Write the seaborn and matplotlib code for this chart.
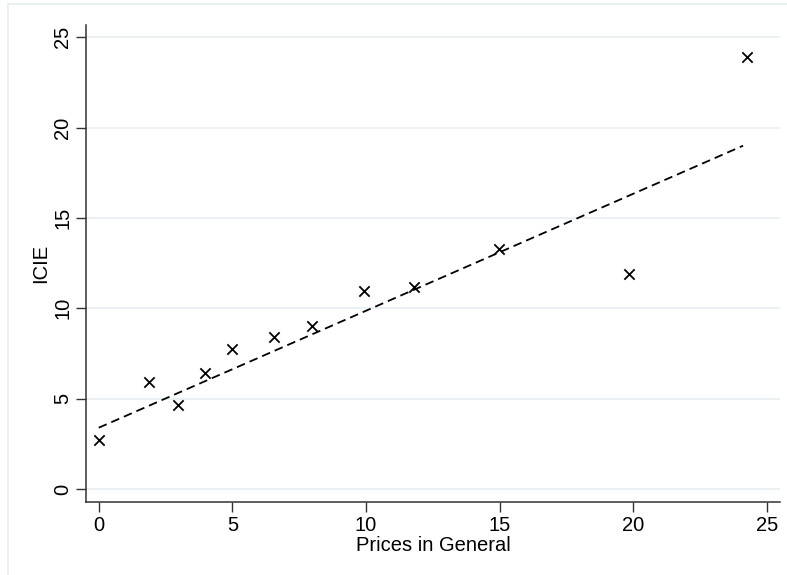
import numpy as np
import pandas as pd
import seaborn as sns
import matplotlib.pyplot as plt
from matplotlib.patches import Rectangle

# values
prices = [0.0, 1.88, 2.97, 3.99, 5.0, 6.57, 7.99, 9.93, 11.80, 14.97, 19.83, 24.23]
icie = [2.71, 5.90, 4.63, 6.40, 7.75, 8.40, 9.02, 10.97, 11.20, 13.28, 11.91, 23.92]
fit_x = [0.0, 24.1]
fit_y = [3.39, 19.0]
ticks = [0, 5, 10, 15, 20, 25]

sns.set_theme(style="white")
plt.rcParams["font.family"] = ["Liberation Sans", "DejaVu Sans"]

df = pd.DataFrame({"Prices in General": prices, "ICIE": icie})
fit = pd.DataFrame({"x": fit_x, "y": fit_y})

fig = plt.figure(figsize=(7.87, 5.75), dpi=100)
# outer frame: only left and top edges show inside the image
top = 1 - 4 / 575
fig.patches.append(Rectangle((8 / 787, -0.1), 1.2, top + 0.1, transform=fig.transFigure,
                             fill=False, edgecolor="#e4edf0", linewidth=1.2))
ax = fig.add_axes([86 / 787, 1 - 502 / 575, (780 - 86) / 787, (502 - 25) / 575])

for t in ticks:
    ax.axhline(t, color="#e6eef1", linewidth=1.2, zorder=0)

sns.lineplot(data=fit, x="x", y="y", ax=ax, color="black", linewidth=1.3,
             dashes=False, linestyle=(0, (4.8, 2.8)))
sns.scatterplot(data=df, x="Prices in General", y="ICIE", ax=ax, marker="x",
                color="black", s=55, linewidth=1.3)

ax.set_xlim(-0.475, 25.48)
ax.set_ylim(-0.72, 25.68)
ax.set_xticks(ticks)
ax.set_yticks(ticks)
ax.set_xlabel("Prices in General", fontsize=14.5, labelpad=1)
ax.set_ylabel("ICIE", fontsize=14.5, labelpad=2)
ax.tick_params(axis="both", direction="out", length=7, width=1, color="#333333",
               labelsize=14.5, labelcolor="black", bottom=True, left=True, pad=3)
for lbl in ax.get_yticklabels():
    lbl.set_rotation(90)
    lbl.set_va("center")

for side in ["top", "right"]:
    ax.spines[side].set_visible(False)
for side in ["left", "bottom"]:
    ax.spines[side].set_color("#333333")
    ax.spines[side].set_linewidth(1.1)

ax.xaxis.label.set_color("black")
ax.yaxis.label.set_color("black")

fig.savefig("out.png", dpi=100)
